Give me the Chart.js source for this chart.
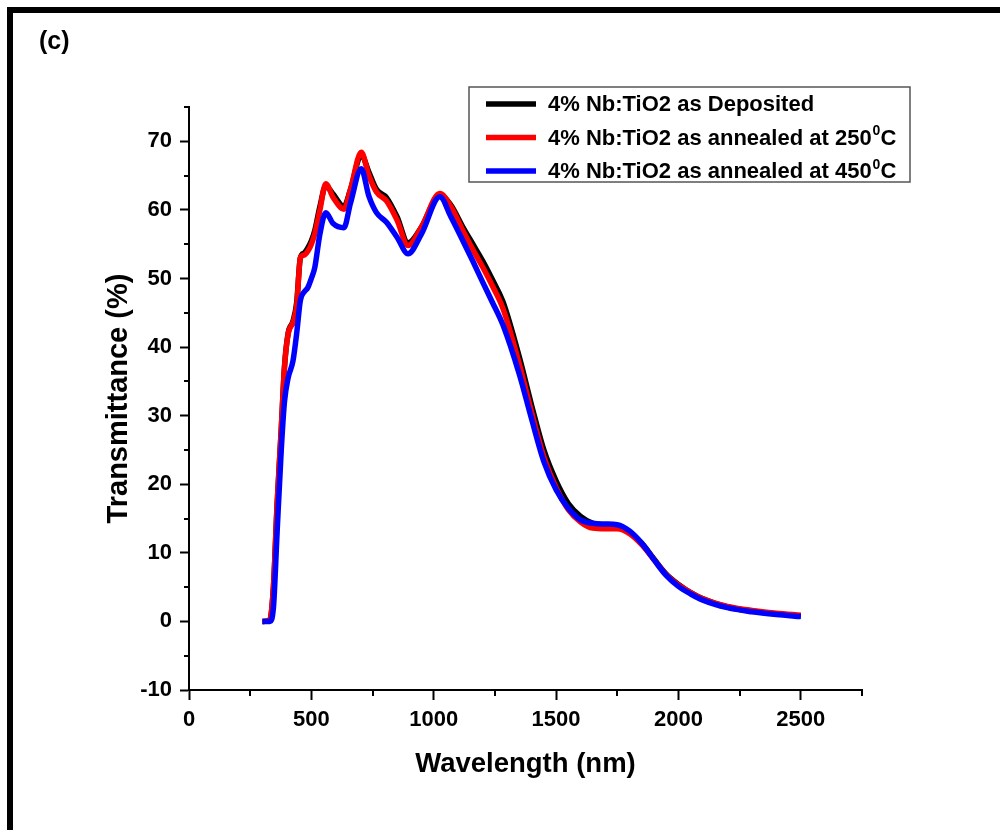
<!DOCTYPE html>
<html>
<head>
<meta charset="utf-8">
<script src="https://cdn.jsdelivr.net/npm/chart.js@4.4.1/dist/chart.umd.min.js"></script>
<style>
    html, body { margin: 0; padding: 0; background: #fff; }
    #wrap { position: relative; width: 1000px; height: 830px; overflow: hidden; }
    #frame { position: absolute; left: 7px; top: 7px; right: 0; bottom: 0;
             border-top: 6px solid #000; border-left: 6px solid #000; }
    #tag { position: absolute; left: 39px; top: 26px; font: bold 25px "Liberation Sans", Arial, sans-serif; }
    canvas { position: absolute; left: 0; top: 0; }
</style>
</head>
<body>
<div id="wrap">
    <canvas id="myLineChart" width="1000" height="830"></canvas>
    <div id="frame"></div>
    <div id="tag">(c)</div>
</div>
<script>
var wavelength = [300, 330, 345, 360, 377, 390, 405, 425, 440, 455, 470, 486, 500, 514, 535, 559, 589, 633, 660, 704,
    735, 766, 807, 850, 895, 950, 1025, 1070, 1119, 1160, 1201, 1240, 1283, 1350, 1400, 1450, 1500, 1550, 1600,
    1650, 1700, 1750, 1800, 1850, 1900, 1950, 2000, 2050, 2100, 2200, 2300, 2400, 2500];

var asDeposited = [0, 0.2, 5, 17, 28, 37, 42, 43.8, 46.5, 53, 53.7, 54.5, 55.5, 57, 60.5, 63.5, 62.3, 60.5, 63, 68,
    65.5, 63, 61.8, 59, 55.2, 57.5, 62.2, 60.7, 57.5, 55, 52.5, 49.8, 46.6, 38.5, 31.5, 25, 20.5, 17.2, 15.3,
    14.3, 14, 13.8, 13, 11.4, 9.1, 6.9, 5.4, 4.2, 3.3, 2.1, 1.5, 1.1, 0.8];

var annealed250 = [0, 0.2, 5, 17, 28, 37, 41.9, 43.6, 46, 53, 53.4, 54, 55, 56.5, 60, 63.8, 61.8, 60.1, 63, 68.4,
    65, 62.6, 61.3, 58.5, 54.8, 57.5, 62.4, 60.5, 57, 54.2, 51.6, 48.9, 45.6, 37.5, 30.5, 24, 19.5, 16.3, 14.5,
    13.6, 13.5, 13.5, 12.8, 11.2, 9, 6.8, 5.3, 4.2, 3.3, 2.2, 1.6, 1.2, 0.9];

var annealed450 = [0, 0, 2, 13, 25, 32, 35.5, 38, 42, 46.8, 48, 48.7, 50, 51.6, 56.5, 59.6, 58, 57.4, 61, 66,
    62, 59.6, 58.2, 56, 53.6, 56.5, 61.9, 59, 55.5, 52.5, 49.4, 46.5, 43.2, 36, 29.5, 23.3, 19.2, 16.5, 14.8,
    14.3, 14.2, 14.1, 13.2, 11.4, 9, 6.7, 5.1, 4, 3.1, 2, 1.4, 1.0, 0.7];

var seriesLabels = ['4% Nb:TiO2 as Deposited', '4% Nb:TiO2 as annealed at 250', '4% Nb:TiO2 as annealed at 450'];
var seriesColors = ['#000000', '#ff0000', '#0000ff'];

var xTicks = [0, 500, 1000, 1500, 2000, 2500];
var xMinorTicks = [250, 750, 1250, 1750, 2250, 2750];
var yTicks = [-10, 0, 10, 20, 30, 40, 50, 60, 70];
var yMinorTicks = [-5, 5, 15, 25, 35, 45, 55, 65, 75];

var FONT = '"Liberation Sans", Arial, sans-serif';

function toPoints(ys) {
    return wavelength.map(function(x, i) { return {x: x, y: ys[i]}; });
}

function makeDataset(ys, idx) {
    return {
        label: seriesLabels[idx],
        data: toPoints(ys),
        borderColor: seriesColors[idx],
        borderWidth: 5.5,
        pointRadius: 0,
        fill: false,
        cubicInterpolationMode: 'monotone',
        order: 3 - idx
    };
}

// minor ticks and legend box
var extrasPlugin = {
    id: 'extras',
    afterDraw: function(chart) {
        var ctx = chart.ctx;
        var xs = chart.scales.x, ys = chart.scales.y;
        var area = chart.chartArea;
        ctx.save();
        ctx.strokeStyle = '#000';
        ctx.lineWidth = 2;
        ctx.beginPath();
        xMinorTicks.forEach(function(v) {
            var px = Math.round(xs.getPixelForValue(v));
            ctx.moveTo(px, area.bottom);
            ctx.lineTo(px, area.bottom + 6);
        });
        yMinorTicks.forEach(function(v) {
            var py = Math.round(ys.getPixelForValue(v));
            ctx.moveTo(area.left, py);
            ctx.lineTo(area.left - 5, py);
        });
        ctx.stroke();

        // legend
        var lx = area.left + 280, ly = area.top - 20, lw = 441, lh = 95;
        ctx.lineWidth = 1.5;
        ctx.strokeStyle = '#555';
        ctx.strokeRect(lx, ly, lw, lh);
        for (var i = 0; i < 3; i++) {
            var rowY = ly + 17 + i * 33.5;
            ctx.strokeStyle = seriesColors[i];
            ctx.lineWidth = 5.5;
            ctx.beginPath();
            ctx.moveTo(lx + 17, rowY);
            ctx.lineTo(lx + 67, rowY);
            ctx.stroke();
            ctx.fillStyle = '#000';
            ctx.font = 'bold 22px ' + FONT;
            ctx.textBaseline = 'middle';
            ctx.textAlign = 'left';
            ctx.fillText(seriesLabels[i], lx + 79, rowY + 1);
            if (i > 0) {
                var w = ctx.measureText(seriesLabels[i]).width;
                ctx.font = 'bold 14px ' + FONT;
                ctx.fillText('0', lx + 80 + w, rowY - 6);
                var w2 = ctx.measureText('0').width;
                ctx.font = 'bold 22px ' + FONT;
                ctx.fillText('C', lx + 80 + w + w2, rowY + 1);
            }
        }
        ctx.restore();
    }
};

var ctx = document.getElementById('myLineChart').getContext('2d');
new Chart(ctx, {
    type: 'line',
    data: {
        datasets: [makeDataset(asDeposited, 0), makeDataset(annealed250, 1), makeDataset(annealed450, 2)]
    },
    plugins: [extrasPlugin],
    options: {
        responsive: false,
        animation: false,
        layout: {
            padding: {left: 98, right: 138, top: 107, bottom: 45}
        },
        plugins: {
            legend: { display: false },
            tooltip: { enabled: false }
        },
        scales: {
            x: {
                type: 'linear',
                min: 0,
                max: 2750,
                afterFit: function(scale) { scale.height = 95; },
                afterBuildTicks: function(scale) {
                    scale.ticks = xTicks.map(function(v) { return {value: v}; });
                },
                grid: {
                    drawOnChartArea: false,
                    drawTicks: true,
                    tickLength: 10,
                    tickWidth: 2,
                    tickColor: '#000'
                },
                border: { display: true, color: '#000', width: 2 },
                ticks: {
                    color: '#000',
                    padding: 7,
                    maxRotation: 0,
                    callback: function(value) { return String(value); },
                    font: { family: FONT, size: 22, weight: 'bold' }
                },
                title: {
                    display: true,
                    text: 'Wavelength (nm)',
                    color: '#000',
                    padding: {top: 4, bottom: 4},
                    font: { family: FONT, size: 27.5, weight: 'bold' }
                }
            },
            y: {
                min: -10,
                max: 75,
                afterFit: function(scale) { scale.width = 91; },
                afterBuildTicks: function(scale) {
                    scale.ticks = yTicks.map(function(v) { return {value: v}; });
                },
                grid: {
                    drawOnChartArea: false,
                    drawTicks: true,
                    tickLength: 9,
                    tickWidth: 2,
                    tickColor: '#000'
                },
                border: { display: true, color: '#000', width: 2 },
                ticks: {
                    color: '#000',
                    padding: 8,
                    callback: function(value) { return String(value); },
                    font: { family: FONT, size: 22, weight: 'bold' }
                },
                title: {
                    display: true,
                    text: 'Transmittance (%)',
                    color: '#000',
                    padding: {top: 4, bottom: 4},
                    font: { family: FONT, size: 29, weight: 'bold' }
                }
            }
        }
    }
});
</script>
</body>
</html>
